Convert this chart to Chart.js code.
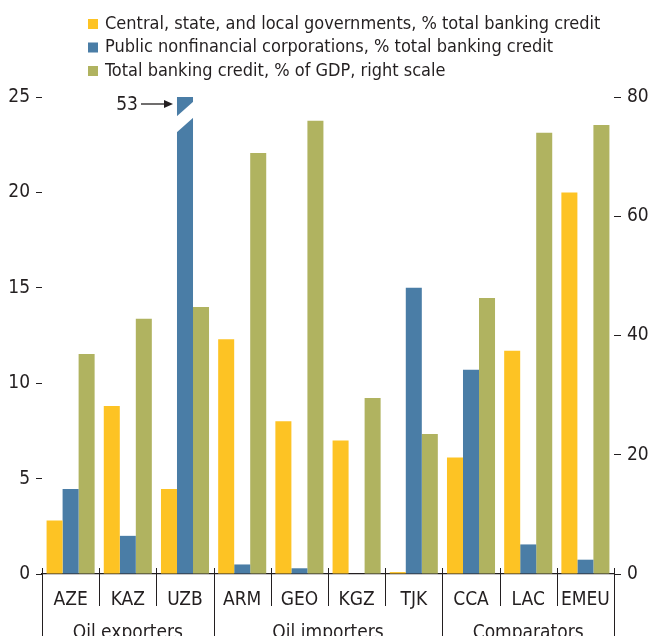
<!DOCTYPE html>
<html>
<head>
<meta charset="utf-8">
<script src="https://cdn.jsdelivr.net/npm/chart.js@4"></script>
<style>
  html, body { margin: 0; padding: 0; background: #fff; }
  #wrap { width: 648px; height: 636px; }
</style>
</head>
<body>
<div id="wrap"><canvas id="c" width="648" height="636"></canvas></div>
<script>
// data
const categories = ['AZE', 'KAZ', 'UZB', 'ARM', 'GEO', 'KGZ', 'TJK', 'CCA', 'LAC', 'EMEU'];
const groupLabels = ['Oil exporters', 'Oil importers', 'Comparators'];
const groupStart = [0, 3, 7];
const groupEnd = [2, 6, 9];
const govShare = [2.8, 8.8, 4.45, 12.3, 8.0, 7.0, 0.1, 6.1, 11.7, 20.0];
const pnfcShare = [4.45, 2.0, 53, 0.5, 0.3, 0, 15.0, 10.7, 1.55, 0.75];
const creditGdp = [36.9, 42.8, 44.8, 70.6, 76.0, 29.5, 23.5, 46.3, 74.0, 75.3];
const leftTicks = [0, 5, 10, 15, 20, 25];
const rightTicks = [0, 20, 40, 60, 80];

const FONT = "'DejaVu Sans Condensed', 'Liberation Sans Narrow', sans-serif";
const INK = '#231F20';
const YELLOW = '#FDC324';
const BLUE = '#4A7DA6';
const OLIVE = '#B0B360';

const legendItems = [
  { text: 'Central, state, and local governments, % total banking credit', color: YELLOW },
  { text: 'Public nonfinancial corporations, % total banking credit', color: BLUE },
  { text: 'Total banking credit, % of GDP, right scale', color: OLIVE }
];

// legend, separators, group labels, axis break
const decor = {
  id: 'decor',
  afterDatasetsDraw(chart) {
    const ctx = chart.ctx;
    const area = chart.chartArea;
    const bar = chart.getDatasetMeta(1).data[2];
    if (!bar) return;
    const x0 = bar.x - bar.width / 2 - 1;
    const x1 = bar.x + bar.width / 2 + 1;
    const t = area.top;
    ctx.save();
    ctx.fillStyle = '#fff';
    ctx.beginPath();
    ctx.moveTo(x0, t + 20);
    ctx.lineTo(x1, t + 4);
    ctx.lineTo(x1, t + 20);
    ctx.lineTo(x0, t + 36);
    ctx.closePath();
    ctx.fill();

    // arrow + label
    const ay = t + 7;
    const ax = x0 - 3;
    ctx.strokeStyle = INK;
    ctx.fillStyle = INK;
    ctx.lineWidth = 1.3;
    ctx.beginPath();
    ctx.moveTo(ax - 32, ay);
    ctx.lineTo(ax - 6, ay);
    ctx.stroke();
    ctx.beginPath();
    ctx.moveTo(ax, ay);
    ctx.lineTo(ax - 9, ay - 4);
    ctx.lineTo(ax - 9, ay + 4);
    ctx.closePath();
    ctx.fill();
    ctx.font = '19px ' + FONT;
    ctx.textAlign = 'right';
    ctx.textBaseline = 'middle';
    ctx.fillText('53', ax - 35, ay + 1);
    ctx.restore();
  },
  afterDraw(chart) {
    const ctx = chart.ctx;
    const area = chart.chartArea;
    const xs = chart.scales.x;
    ctx.save();

    // legend
    ctx.font = '18px ' + FONT;
    ctx.textAlign = 'left';
    ctx.textBaseline = 'middle';
    legendItems.forEach((it, i) => {
      const y = 24 + i * 23.5;
      ctx.fillStyle = it.color;
      ctx.fillRect(88, y - 5, 10, 10);
      ctx.fillStyle = INK;
      ctx.fillText(it.text, 105, y);
    });

    // category separators under the axis
    const edge = i => {
      if (i < 0) return area.left;
      if (i >= categories.length - 1) return area.right;
      return (xs.getPixelForValue(i) + xs.getPixelForValue(i + 1)) / 2;
    };
    ctx.strokeStyle = INK;
    ctx.lineWidth = 1;
    for (let i = -1; i < categories.length; i++) {
      const x = Math.round(edge(i)) + 0.5;
      const isGroup = i === -1 || groupEnd.includes(i);
      ctx.beginPath();
      ctx.moveTo(x, area.bottom - 6);
      ctx.lineTo(x, isGroup ? 640 : area.bottom + 32);
      ctx.stroke();
    }

    // group labels
    ctx.font = '19px ' + FONT;
    ctx.fillStyle = INK;
    ctx.textAlign = 'center';
    ctx.textBaseline = 'middle';
    groupLabels.forEach((g, k) => {
      const cx = (edge(groupStart[k] - 1) + edge(groupEnd[k])) / 2;
      ctx.fillText(g, cx, 633);
    });
    ctx.restore();
  }
};

new Chart(document.getElementById('c'), {
  type: 'bar',
  data: {
    labels: categories,
    datasets: [
      { label: legendItems[0].text, data: govShare, backgroundColor: YELLOW, yAxisID: 'y' },
      { label: legendItems[1].text, data: pnfcShare, backgroundColor: BLUE, yAxisID: 'y' },
      { label: legendItems[2].text, data: creditGdp, backgroundColor: OLIVE, yAxisID: 'y2' }
    ]
  },
  options: {
    responsive: false,
    animation: false,
    devicePixelRatio: 1,
    datasets: { bar: { categoryPercentage: 0.84, barPercentage: 1, borderWidth: 0 } },
    layout: { padding: { top: 97, left: 0, right: 0, bottom: 0 } },
    plugins: { legend: { display: false }, tooltip: { enabled: false } },
    scales: {
      x: {
        grid: { display: false },
        border: { display: true, color: INK, width: 1.2 },
        ticks: { color: INK, font: { family: FONT, size: 19 }, padding: 7, maxRotation: 0, autoSkip: false },
        afterFit: s => { s.height = 62; s.paddingLeft = 0; s.paddingRight = 0; }
      },
      y: {
        position: 'left',
        min: 0, max: 25,
        afterBuildTicks: s => { s.ticks = leftTicks.map(v => ({ value: v })); },
        grid: { drawOnChartArea: false, drawTicks: true, tickLength: 6, color: INK },
        border: { display: false },
        ticks: { color: INK, font: { family: FONT, size: 19 }, padding: 6 },
        afterFit: s => { s.width = 42; s.paddingTop = 0; s.paddingBottom = 0; }
      },
      y2: {
        position: 'right',
        min: 0, max: 80,
        afterBuildTicks: s => { s.ticks = rightTicks.map(v => ({ value: v })); },
        grid: { drawOnChartArea: false, drawTicks: true, tickLength: 7, color: INK },
        border: { display: false },
        ticks: { color: INK, font: { family: FONT, size: 19 }, padding: 6 },
        afterFit: s => { s.width = 34; s.paddingTop = 0; s.paddingBottom = 0; }
      }
    }
  },
  plugins: [decor]
});
</script>
</body>
</html>
